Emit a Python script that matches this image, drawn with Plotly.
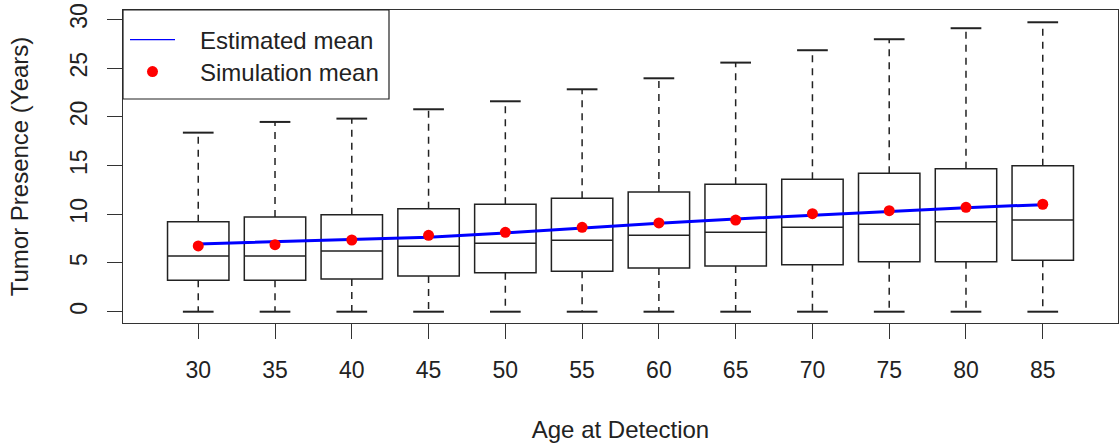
import plotly.graph_objects as go

# ---- data ----
ages = [30, 35, 40, 45, 50, 55, 60, 65, 70, 75, 80, 85]
upper_whisker = [18.38, 19.48, 19.82, 20.78, 21.60, 22.83, 23.96, 25.57, 26.84, 27.97, 29.10, 29.71]
q3_vals = [9.24, 9.72, 9.96, 10.58, 11.03, 11.64, 12.29, 13.08, 13.59, 14.21, 14.68, 14.99]
median_vals = [5.72, 5.72, 6.23, 6.71, 7.02, 7.33, 7.84, 8.15, 8.66, 8.97, 9.24, 9.41]
q1_vals = [3.22, 3.22, 3.36, 3.67, 4.00, 4.15, 4.49, 4.69, 4.83, 5.13, 5.13, 5.27]
lower_whisker = [0, 0, 0, 0, 0, 0, 0, 0, 0, 0, 0, 0]
simulation_mean = [6.75, 6.88, 7.36, 7.84, 8.15, 8.66, 9.11, 9.41, 10.06, 10.37, 10.72, 11.03]
estimated_mean = [6.95, 7.19, 7.36, 7.64, 8.08, 8.59, 9.07, 9.52, 9.93, 10.34, 10.68, 10.99]
y_ticks = [0, 5, 10, 15, 20, 25, 30]

positions = [i + 1 for i in range(len(ages))]
BOXWEX = 0.8
STAPLE = BOXWEX * 0.5

INK = "#222222"
FONT = "Liberation Sans, Arial, sans-serif"
PAD = "\u00a0\u00a0\u00a0"

fig = go.Figure()

# box bodies + median
fig.add_trace(go.Box(
    x=positions, q1=q1_vals, median=median_vals, q3=q3_vals,
    lowerfence=q1_vals, upperfence=q3_vals,
    width=BOXWEX, whiskerwidth=0, boxpoints=False,
    line=dict(color=INK, width=1.5), fillcolor="rgba(0,0,0,0)",
    showlegend=False, hoverinfo="skip",
))

# dashed whiskers
wx, wy = [], []
for p, lo, q1, q3, hi in zip(positions, lower_whisker, q1_vals, q3_vals, upper_whisker):
    wx += [p, p, None, p, p, None]
    wy += [q3, hi, None, q1, lo, None]
fig.add_trace(go.Scatter(x=wx, y=wy, mode="lines",
                         line=dict(color=INK, width=1.5, dash="7px,6px"),
                         showlegend=False, hoverinfo="skip"))

# staples
sx, sy = [], []
for p, lo, hi in zip(positions, lower_whisker, upper_whisker):
    sx += [p - STAPLE / 2, p + STAPLE / 2, None, p - STAPLE / 2, p + STAPLE / 2, None]
    sy += [hi, hi, None, lo, lo, None]
fig.add_trace(go.Scatter(x=sx, y=sy, mode="lines",
                         line=dict(color=INK, width=2),
                         showlegend=False, hoverinfo="skip"))

# estimated mean line
fig.add_trace(go.Scatter(x=positions, y=estimated_mean, mode="lines",
                         name="Estimated mean", showlegend=False,
                         line=dict(color="#0000ff", width=3)))
# legend entry for it (thin line, as in R legend)
fig.add_trace(go.Scatter(x=[None], y=[None], mode="lines",
                         name=PAD + "Estimated mean", legend="legend",
                         line=dict(color="#0000ff", width=1.3)))

# simulation mean points
fig.add_trace(go.Scatter(x=positions, y=simulation_mean, mode="markers",
                         name=PAD + "Simulation mean", legend="legend2",
                         marker=dict(color="#ff0000", size=11)))

PLOT_L, PLOT_R, PLOT_T, PLOT_B = 123, 1118, 10, 323
W, H = 1119, 443
ph = PLOT_B - PLOT_T
pw = PLOT_R - PLOT_L

# legend frame (R style)
fig.add_shape(type="rect", xref="paper", yref="paper",
              x0=0, x1=(389 - PLOT_L) / pw, y0=1 - (99 - PLOT_T) / ph, y1=1,
              line=dict(color=INK, width=1.2), fillcolor="rgba(0,0,0,0)")

leg_common = dict(x=2 / pw, xanchor="left", yanchor="middle",
                  bgcolor="rgba(0,0,0,0)", borderwidth=0,
                  font=dict(size=24, color=INK), itemwidth=45)

fig.update_layout(
    width=W, height=H,
    margin=dict(l=PLOT_L, r=W - PLOT_R, t=PLOT_T, b=H - PLOT_B, autoexpand=False),
    paper_bgcolor="white", plot_bgcolor="white",
    font=dict(family=FONT, size=24, color=INK),
    legend=dict(y=1 - (40 - PLOT_T) / ph, **leg_common),
    legend2=dict(y=1 - (72 - PLOT_T) / ph, **leg_common),
    xaxis=dict(
        range=[0.02, 12.98], tickmode="array", tickvals=positions,
        ticktext=[str(a) for a in ages],
        showgrid=False, zeroline=False, showline=True, mirror=True,
        linecolor="#333", linewidth=1.2,
        ticks="outside", ticklen=15, tickcolor="#333", tickwidth=1.2,
        tickfont=dict(size=23), ticklabelstandoff=11,
        title=dict(text="Age at Detection", font=dict(size=24), standoff=40),
    ),
    yaxis=dict(
        range=[-1.16, 30.97], tickmode="array", tickvals=y_ticks,
        ticktext=[str(v) for v in y_ticks], tickangle=-90,
        showgrid=False, zeroline=False, showline=True, mirror=True,
        linecolor="#333", linewidth=1.2,
        ticks="outside", ticklen=15, tickcolor="#333", tickwidth=1.2,
        tickfont=dict(size=23), ticklabelstandoff=11,
        title=dict(text="Tumor Presence (Years)", font=dict(size=24), standoff=30),
    ),
)

fig.write_html("out.html", config={"displayModeBar": False},
               post_script="document.body.style.margin='0';")
